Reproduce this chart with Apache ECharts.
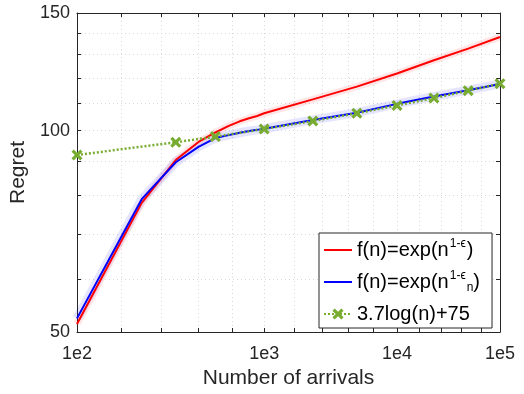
<!DOCTYPE html>
<html>
<head>
<meta charset="utf-8">
<script src="https://cdn.jsdelivr.net/npm/echarts@6/dist/echarts.min.js"></script>
<style>
  html, body { margin: 0; padding: 0; background: #fff; }
  #chart { width: 524px; height: 394px; }
</style>
</head>
<body>
<div id="chart"></div>
<script>
// number of arrivals n, x axis is drawn as log of log10(n)
const arrivals = [100, 200, 300, 400, 500, 600, 700, 800, 900, 1000, 2154, 4642, 10000, 21544, 46416, 100000];
const regretFixedEps = [51.4, 78.0, 90.4, 96.2, 99.4, 101.7, 103.3, 104.4, 105.2, 106.2, 111.4, 116.4, 121.8, 127.5, 132.7, 138.1];
const regretDecayEps = [52.4, 79.0, 89.7, 94.6, 97.5, 98.5, 99.3, 99.9, 100.3, 100.7, 103.8, 106.4, 109.7, 112.5, 115.0, 117.5];
const fitArrivals = [100, 300, 500, 1000, 2154, 4642, 10000, 21544, 46416, 100000];
const fitRegret = [92.0, 96.1, 98.0, 100.6, 103.4, 106.2, 109.1, 111.9, 114.8, 117.6];

// ticks (x in powers of ten)
const xTickExp = [2, 2.2, 2.4, 2.6, 2.8, 3, 3.2, 3.4, 3.6, 3.8, 4, 4.2, 4.4, 4.6, 4.8, 5];
const xLabelExp = [2, 3, 4, 5];
const yTicks = [50, 60, 70, 80, 90, 100, 110, 120, 130, 140, 150];
const yLabels = [50, 100, 150];

const pts = (ns, vs) => ns.map((n, i) => [Math.log10(n), vs[i]]);

const axisCol = '#262626';
const gridLine = { show: true, lineStyle: { color: '#d9d9d9', type: [1, 3], width: 1 } };
const xMark = 'path://M0,2L2,0L5,3L8,0L10,2L7,5L10,8L8,10L5,7L2,10L0,8L3,5Z';

const legendText = {
  fixed: 'f(n)=exp(n{sup|1-ϵ})',
  decay: 'f(n)=exp(n{sup|1-ϵ}{sub|n})',
  fit: '3.7log(n)+75'
};

const chart = echarts.init(document.getElementById('chart'), null, { renderer: 'canvas' });

const option = {
  animation: false,
  textStyle: { fontFamily: 'Liberation Sans, Arial, sans-serif' },
  grid: { left: 77, right: 24, top: 13, bottom: 59 },
  xAxis: [{
    type: 'log',
    min: 2,
    max: 5,
    name: 'Number of arrivals',
    nameLocation: 'middle',
    nameGap: 36,
    nameTextStyle: { fontSize: 21, color: axisCol },
    axisLine: { lineStyle: { color: axisCol, width: 1 } },
    axisTick: { inside: true, length: 4, lineStyle: { color: axisCol }, customValues: xTickExp },
    axisLabel: {
      customValues: xLabelExp,
      fontSize: 18,
      color: axisCol,
      margin: 13,
      formatter: v => '1e' + Math.round(v)
    },
    splitLine: gridLine
  }, {
    type: 'log',
    min: 2,
    max: 5,
    position: 'top',
    axisLine: { lineStyle: { color: axisCol, width: 1 } },
    axisTick: { inside: true, length: 4, lineStyle: { color: axisCol }, customValues: xTickExp },
    axisLabel: { show: false },
    splitLine: { show: false }
  }],
  yAxis: [{
    type: 'log',
    min: 50,
    max: 150,
    name: 'Regret',
    nameLocation: 'middle',
    nameGap: 41,
    nameTextStyle: { fontSize: 21, color: axisCol },
    axisLine: { show: true, lineStyle: { color: axisCol, width: 1 } },
    axisTick: { show: true, inside: true, length: 4, lineStyle: { color: axisCol }, customValues: yTicks },
    axisLabel: { customValues: yLabels, fontSize: 18, color: axisCol, margin: 7 },
    splitLine: gridLine
  }, {
    type: 'log',
    min: 50,
    max: 150,
    position: 'right',
    axisLine: { show: true, lineStyle: { color: axisCol, width: 1 } },
    axisTick: { show: true, inside: true, length: 4, lineStyle: { color: axisCol }, customValues: yTicks },
    axisLabel: { show: false },
    splitLine: { show: false }
  }],
  legend: {
    data: [
      { name: 'fixed', itemStyle: { opacity: 0 } },
      { name: 'decay', itemStyle: { opacity: 0 } },
      { name: 'fit' }
    ],
    orient: 'vertical',
    left: 319,
    top: 233,
    padding: [5, 12, 2, 4],
    itemGap: 8,
    itemWidth: 28,
    itemHeight: 14,
    borderColor: axisCol,
    borderWidth: 1,
    borderRadius: 0,
    backgroundColor: '#fff',
    formatter: name => legendText[name],
    textStyle: {
      fontSize: 20,
      lineHeight: 24,
      color: '#000',
      rich: {
        sup: { fontSize: 12, lineHeight: 24, verticalAlign: 'top', padding: [0, 1, 0, 1] },
        sub: { fontSize: 12, lineHeight: 24, verticalAlign: 'bottom' }
      }
    }
  },
  series: [
    {
      name: 'fixedBand', type: 'line', data: pts(arrivals, regretFixedEps),
      symbol: 'none', silent: true, z: 1,
      lineStyle: { color: '#ff0000', width: 7, opacity: 0.1 }
    },
    {
      name: 'decayBand', type: 'line', data: pts(arrivals, regretDecayEps),
      symbol: 'none', silent: true, z: 1,
      lineStyle: { color: '#0000ff', width: 9, opacity: 0.1 }
    },
    {
      name: 'fixed', type: 'line', data: pts(arrivals, regretFixedEps),
      symbol: 'none', z: 2,
      itemStyle: { color: '#ff0000' },
      lineStyle: { color: '#ff0000', width: 2 }
    },
    {
      name: 'decay', type: 'line', data: pts(arrivals, regretDecayEps),
      symbol: 'none', z: 3,
      itemStyle: { color: '#0000ff' },
      lineStyle: { color: '#0000ff', width: 2 }
    },
    {
      name: 'fit', type: 'line', data: pts(fitArrivals, fitRegret),
      symbol: xMark, symbolSize: 11, z: 4,
      itemStyle: { color: '#77ac30' },
      lineStyle: { color: '#77ac30', width: 2.5, type: [2, 2] }
    }
  ]
};

chart.setOption(option);
</script>
</body>
</html>
